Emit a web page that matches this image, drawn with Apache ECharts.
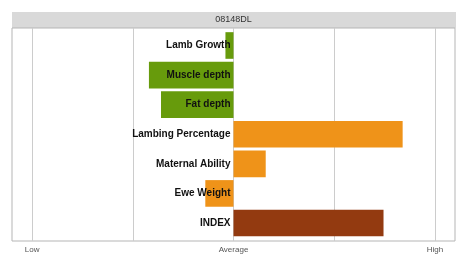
<!DOCTYPE html>
<html>
<head>
<meta charset="utf-8">
<script src="https://cdn.jsdelivr.net/npm/echarts@6/dist/echarts.min.js"></script>
<style>
  html, body { margin: 0; padding: 0; background: #fff; }
  #chart { width: 460px; height: 263px; }
</style>
</head>
<body>
<div id="chart"></div>
<script>
// traits, top to bottom
const traits = ['Lamb Growth', 'Muscle depth', 'Fat depth', 'Lambing Percentage', 'Maternal Ability', 'Ewe Weight', 'INDEX']
const scores = [-0.08, -0.84, -0.72, 1.68, 0.32, -0.28, 1.49]
const groupColors = ['#679b0c', '#679b0c', '#679b0c', '#ef9319', '#ef9319', '#ef9319', '#933a10']
const tickValues = [-2, -1, 0, 1, 2]
const tickNames = { '-2': 'Low', '0': 'Average', '2': 'High' }
const sireName = '08148DL'

const chart = echarts.init(document.getElementById('chart'))

const option = {
  animation: false,
  graphic: [{
    type: 'rect', z: -1,
    shape: { x: 12, y: 12, width: 444, height: 16 },
    style: { fill: '#d9d9d9' }
  }, {
    type: 'text', z: 5, x: 233.5, y: 20,
    style: {
      text: sireName, align: 'center', verticalAlign: 'middle',
      font: '9px "Liberation Sans"', fill: '#333'
    }
  }],
  grid: [
    // panel with gridlines
    { left: 12, right: 5, top: 28, bottom: 22, show: true, borderColor: '#b5b5b5', borderWidth: 1, outerBoundsMode: 'none', containLabel: false },
    // bars
    { left: 12, right: 5, top: 30.7, bottom: 25.2, outerBoundsMode: 'none', containLabel: false }
  ],
  xAxis: [{
    gridIndex: 0, type: 'value', min: -2.2, max: 2.2,
    axisLine: { show: false },
    axisTick: { show: false, customValues: tickValues },
    splitLine: { show: true, lineStyle: { color: '#cccccc', width: 1 } },
    axisLabel: {
      customValues: tickValues, margin: 5,
      fontFamily: 'Liberation Sans', fontSize: 8, color: '#555',
      formatter: v => tickNames[String(v)] || ''
    }
  }, {
    gridIndex: 1, type: 'value', min: -2.2, max: 2.2,
    axisLine: { show: false },
    axisTick: { show: false },
    axisLabel: { show: false },
    splitLine: { show: false }
  }],
  yAxis: [{
    gridIndex: 0, type: 'value', min: 0, max: 1, show: false
  }, {
    gridIndex: 1, type: 'category', data: traits, inverse: true,
    position: 'left', offset: -221.5,
    axisLine: { show: false, onZero: false },
    axisTick: { show: false },
    axisLabel: {
      margin: 3, fontFamily: 'Liberation Sans', fontSize: 10,
      fontWeight: 'bold', color: '#111'
    },
    z: 10
  }],
  series: [{
    type: 'bar', xAxisIndex: 1, yAxisIndex: 1,
    barWidth: '90%',
    data: scores.map((v, i) => ({ value: v, itemStyle: { color: groupColors[i] } }))
  }]
}

chart.setOption(option)
</script>
</body>
</html>
